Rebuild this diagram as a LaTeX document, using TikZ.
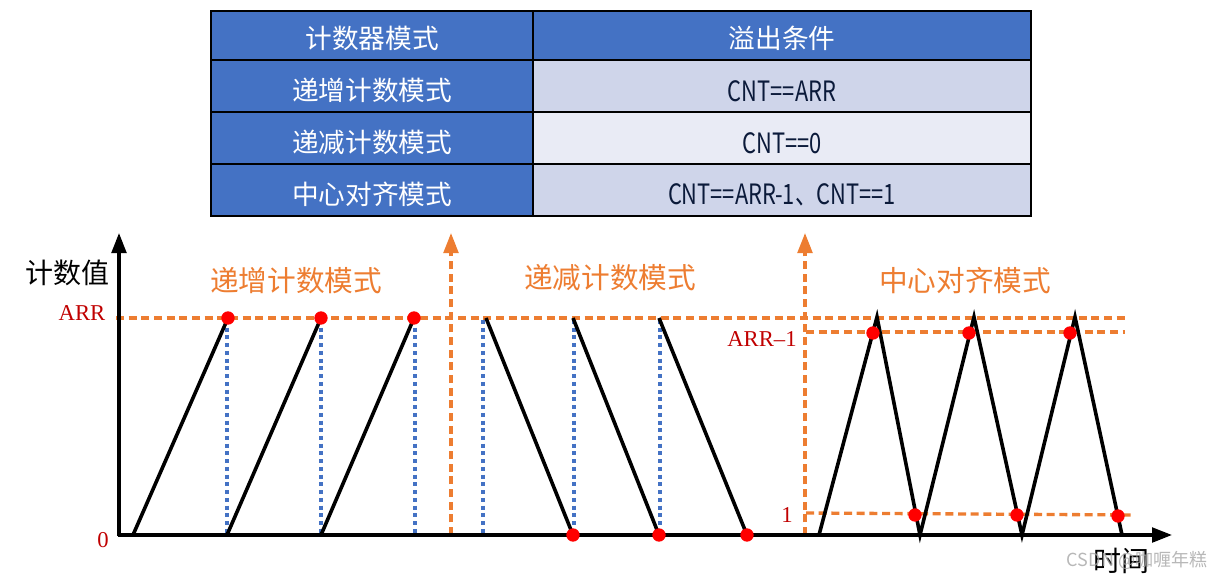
\documentclass[tikz,border=0pt]{standalone}
\usepackage{fontspec}
\setmainfont{Liberation Serif}
\newfontfamily\cjk{Noto Sans CJK SC}
\usetikzlibrary{arrows.meta}
\definecolor{tblue}{HTML}{4472C4}
\definecolor{rowA}{HTML}{CFD5EA}
\definecolor{rowB}{HTML}{E9EBF5}
\definecolor{orng}{HTML}{ED7D31}
\definecolor{dred}{HTML}{C00000}
\definecolor{ttext}{HTML}{0B1A3A}
\tikzset{
  grid/.style={black, line width=1.5pt},
  thead/.style={text=white, font=\cjk\fontsize{20}{22}\selectfont, inner sep=0pt},
  tcell/.style={text=ttext, font=\cjk\fontsize{21}{22}\selectfont, inner sep=0pt},
  axis/.style={black, line width=2.5pt},
  curve/.style={black, line width=2.7pt},
  odash/.style={orng, line width=2.5pt, dash pattern=on 6pt off 3.5pt},
  bdot/.style={tblue, line width=2.5pt, dash pattern=on 3pt off 2.8pt},
  tip/.style={-{Triangle[length=15pt,width=11pt]}},
  rdot/.style={fill=red, draw=none},
  vlabel/.style={text=dred, font=\fontsize{17}{18}\selectfont, inner sep=0pt},
  mlabel/.style={text=orng, font=\cjk\fontsize{21.5}{24}\selectfont, inner sep=0pt},
  alabel/.style={text=black, font=\cjk\fontsize{21}{24}\selectfont, inner sep=0pt},
}
\newcommand{\nar}[1]{\scalebox{0.78}[1]{#1}}
\begin{document}
\begin{tikzpicture}[x=0.75pt,y=-0.75pt]
\useasboundingbox (0,0) rectangle (1221,578);
% ---------- table ----------
\fill[tblue] (211,11) rectangle (1031,60);
\fill[tblue] (211,60) rectangle (533,216);
\fill[rowA] (533,60) rectangle (1031,112);
\fill[rowB] (533,112) rectangle (1031,164);
\fill[rowA] (533,164) rectangle (1031,216);
\draw[grid] (211,11) rectangle (1031,216);
\draw[grid] (533,11) -- (533,216);
\draw[grid] (211,60) -- (1031,60);
\draw[grid] (211,112) -- (1031,112);
\draw[grid] (211,164) -- (1031,164);
\node[thead] (h1) at (372,38) {计数器模式};
\node[thead] (h2) at (782,38) {溢出条件};
\node[thead] (m1) at (372,90) {递增计数模式};
\node[thead] (m2) at (372,142) {递减计数模式};
\node[thead] (m3) at (372,194) {中心对齐模式};
\node[tcell] (c1) at (782,91) {\nar{CNT==ARR}};
\node[tcell] (c2) at (782,143) {\nar{CNT==0}};
\node[tcell] (c3) at (782,195) {\nar{CNT==ARR-1、CNT==1}};
% ---------- dashed guides ----------
\draw[odash] (116,318) -- (1128,318);
\draw[odash] (806,332) -- (1125,332);
\draw[odash] (806,513) -- (1135,515);
\draw[odash,tip] (451,535) -- (451,233);
\draw[odash,tip] (805,535) -- (805,233);
\foreach \x in {227,321,415,483,574,660} \draw[bdot] (\x,320) -- (\x,533);
% ---------- axes ----------
\draw[axis,tip] (119,536) -- (119,233);
\draw[axis,tip] (118,535) -- (1172,535);
% ---------- counter waveforms ----------
\draw[curve] (133,535) -- (228,318);
\draw[curve] (227,535) -- (321,318);
\draw[curve] (321,535) -- (414,318);
\draw[curve] (486,318) -- (573,535);
\draw[curve] (573,318) -- (659,535);
\draw[curve] (659,318) -- (747,535);
\draw[curve, line join=miter] (819,535) -- (877,317) -- (920,535) -- (974,317) -- (1022,535) -- (1075,317) -- (1122,535);
% ---------- overflow points ----------
\foreach \p in {(228,318),(321,318),(414,318),(573,535),(659,535),(747,535),
                (873,333),(969,333),(1070,333),(915,515),(1017,515),(1118,516)}
  \fill[rdot] \p circle[radius=5pt];
% ---------- labels ----------
\node[alabel] (yl) at (68,273) {计数值};
\node[alabel] (xl) at (1121,561) {时间};
\node[vlabel] (arr) at (82,313) {ARR};
\node[vlabel] (zero) at (103,540) {0};
\node[vlabel] (arr1) at (762,339) {ARR\textendash1};
\node[vlabel] (one) at (787,515) {1};
\node[mlabel] (l1) at (296,281) {递增计数模式};
\node[mlabel] (l2) at (610,278) {递减计数模式};
\node[mlabel] (l3) at (965,281) {中心对齐模式};
\node[text=gray!70, opacity=0.8, font=\cjk\fontsize{13.5}{15}\selectfont, inner sep=0pt] (wm) at (1137,560) {CSDN @咖喱年糕};
\end{tikzpicture}
\end{document}
